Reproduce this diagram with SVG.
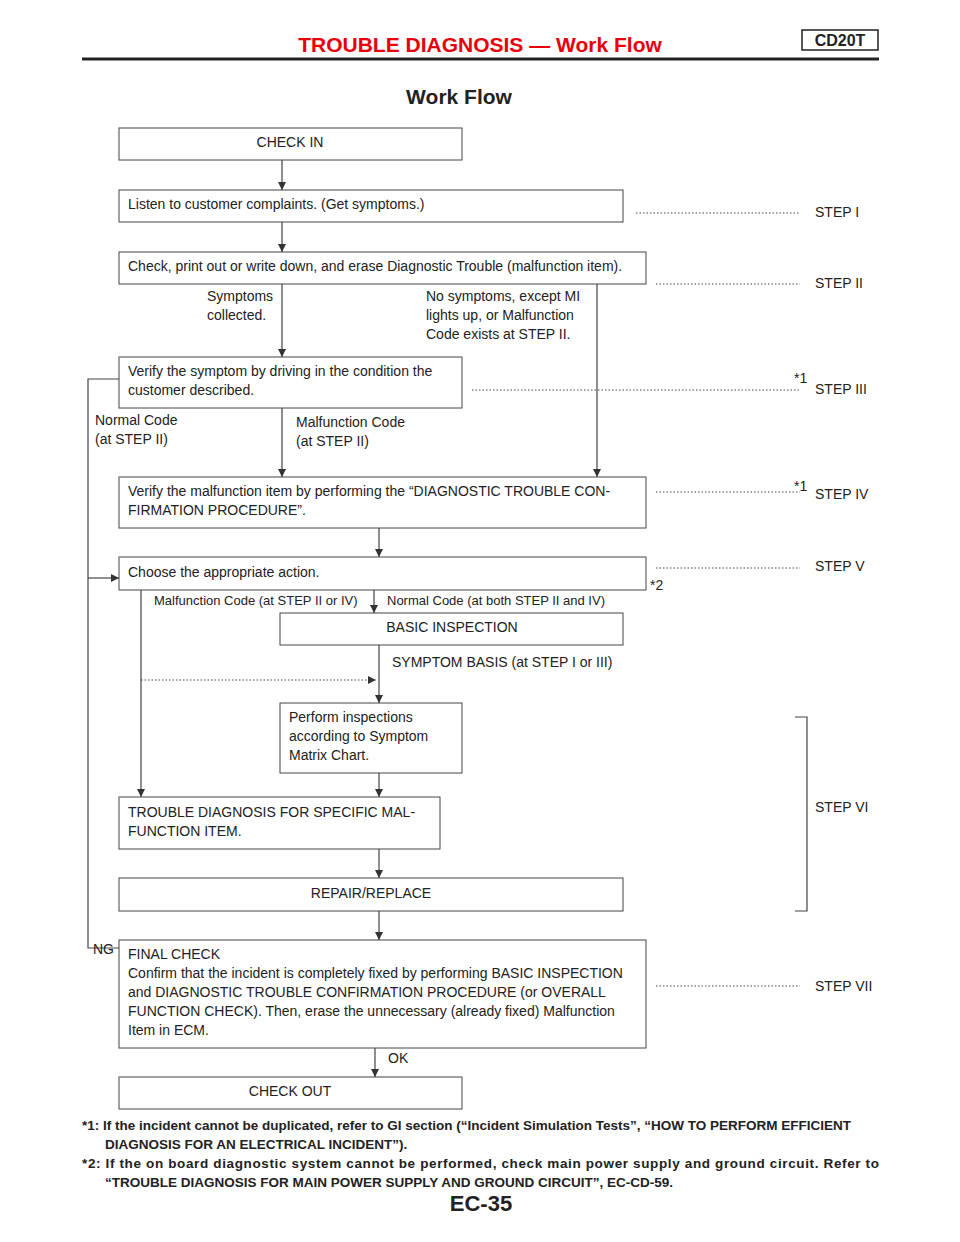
<svg xmlns="http://www.w3.org/2000/svg" width="960" height="1242" viewBox="0 0 960 1242">
<defs><marker id="a" markerWidth="8" markerHeight="8" refX="8" refY="4" orient="auto" markerUnits="userSpaceOnUse"><path d="M0,0 L8,4 L0,8 z" fill="#333"/></marker></defs>
<style>
text{font-family:"Liberation Sans",Arial,sans-serif;font-size:14px;fill:#222}
.b{fill:#fff;stroke:#444;stroke-width:1}
.l{stroke:#444;stroke-width:1.2;fill:none}
.d{stroke:#444;stroke-width:1;stroke-dasharray:1.5 2;fill:none}
.f{font-weight:bold;font-size:13.5px}
</style>
<rect width="960" height="1242" fill="#fff"/>
<text x="480" y="52" text-anchor="middle" style="fill:#e8000b;font-size:21px;font-weight:bold">TROUBLE DIAGNOSIS — Work Flow</text>
<rect x="802" y="30" width="76" height="20" fill="#fff" stroke="#222" stroke-width="1.5"/>
<text x="840" y="46" text-anchor="middle" style="font-size:16px;font-weight:bold">CD20T</text>
<line x1="82" y1="59" x2="879" y2="59" stroke="#222" stroke-width="3"/>
<text x="459" y="104" text-anchor="middle" style="font-size:21px;font-weight:bold">Work Flow</text>
<g id="connectors">
<path class="l" marker-end="url(#a)" d="M282 160V190"/>
<path class="l" marker-end="url(#a)" d="M282 222V252"/>
<path class="l" marker-end="url(#a)" d="M282 284V357"/>
<path class="l" marker-end="url(#a)" d="M597 284V477"/>
<path class="l" marker-end="url(#a)" d="M282 408V477"/>
<path class="l" marker-end="url(#a)" d="M379 528V557"/>
<path class="l" d="M119 379H88V948H119"/>
<path class="l" marker-end="url(#a)" d="M88 578H119"/>
<path class="l" marker-end="url(#a)" d="M374 590V613"/>
<path class="l" marker-end="url(#a)" d="M141 590V797"/>
<path class="l" marker-end="url(#a)" d="M379 645V703"/>
<path class="d" marker-end="url(#a)" d="M141 680H376"/>
<path class="l" marker-end="url(#a)" d="M379 773V797"/>
<path class="l" marker-end="url(#a)" d="M379 849V878"/>
<path class="l" marker-end="url(#a)" d="M379 911V940"/>
<path class="l" marker-end="url(#a)" d="M375 1048V1077"/>
<path class="d" d="M636 213H800M656 284H800M472 390H800M656 492H800M656 568H800M656 986H800"/>
<path class="l" d="M795 717H807V911H795"/>
</g>
<g id="checkin"><rect class="b" x="119" y="128" width="343" height="32"/><text x="290" y="147" text-anchor="middle">CHECK IN</text></g>
<g id="listen"><rect class="b" x="119" y="190" width="504" height="32"/><text x="128" y="209">Listen to customer complaints. (Get symptoms.)</text></g>
<g id="check"><rect class="b" x="119" y="252" width="527" height="32"/><text x="128" y="271">Check, print out or write down, and erase Diagnostic Trouble (malfunction item).</text></g>
<g id="verify"><rect class="b" x="119" y="357" width="343" height="51"/><text x="128" y="376">Verify the symptom by driving in the condition the</text><text x="128" y="395">customer described.</text></g>
<g id="verifym"><rect class="b" x="119" y="477" width="527" height="51"/><text x="128" y="496">Verify the malfunction item by performing the “DIAGNOSTIC TROUBLE CON-</text><text x="128" y="515">FIRMATION PROCEDURE”.</text></g>
<g id="choose"><rect class="b" x="119" y="557" width="527" height="33"/><text x="128" y="577">Choose the appropriate action.</text></g>
<g id="basic"><rect class="b" x="280" y="613" width="343" height="32"/><text x="452" y="632" text-anchor="middle">BASIC INSPECTION</text></g>
<g id="perform"><rect class="b" x="280" y="703" width="182" height="70"/><text x="289" y="722">Perform inspections</text><text x="289" y="741">according to Symptom</text><text x="289" y="760">Matrix Chart.</text></g>
<g id="trouble"><rect class="b" x="119" y="797" width="321" height="52"/><text x="128" y="817">TROUBLE DIAGNOSIS FOR SPECIFIC MAL-</text><text x="128" y="836">FUNCTION ITEM.</text></g>
<g id="repair"><rect class="b" x="119" y="878" width="504" height="33"/><text x="371" y="898" text-anchor="middle">REPAIR/REPLACE</text></g>
<g id="final"><rect class="b" x="119" y="940" width="527" height="108"/><text x="128" y="959">FINAL CHECK</text><text x="128" y="978">Confirm that the incident is completely fixed by performing BASIC INSPECTION</text><text x="128" y="997">and DIAGNOSTIC TROUBLE CONFIRMATION PROCEDURE (or OVERALL</text><text x="128" y="1016">FUNCTION CHECK). Then, erase the unnecessary (already fixed) Malfunction</text><text x="128" y="1035">Item in ECM.</text></g>
<g id="checkout"><rect class="b" x="119" y="1077" width="343" height="32"/><text x="290" y="1096" text-anchor="middle">CHECK OUT</text></g>
<g id="labels">
<text x="207" y="301">Symptoms</text><text x="207" y="320">collected.</text>
<text x="426" y="301">No symptoms, except MI</text><text x="426" y="320">lights up, or Malfunction</text><text x="426" y="339">Code exists at STEP II.</text>
<text x="95" y="425">Normal Code</text><text x="95" y="444">(at STEP II)</text>
<text x="296" y="427">Malfunction Code</text><text x="296" y="446">(at STEP II)</text>
<text x="154" y="605" style="font-size:13px">Malfunction Code (at STEP II or IV)</text>
<text x="387" y="605" style="font-size:13px">Normal Code (at both STEP II and IV)</text>
<text x="392" y="667">SYMPTOM BASIS (at STEP I or III)</text>
<text x="93" y="954">NG</text><text x="388" y="1063">OK</text>
<text x="650" y="590">*2</text><text x="794" y="383">*1</text><text x="794" y="491">*1</text>
<text x="815" y="217">STEP I</text><text x="815" y="288">STEP II</text><text x="815" y="394">STEP III</text><text x="815" y="499">STEP IV</text><text x="815" y="571">STEP V</text><text x="815" y="812">STEP VI</text><text x="815" y="991">STEP VII</text>
</g>
<text class="f" x="82" y="1130">*1: If the incident cannot be duplicated, refer to GI section (“Incident Simulation Tests”, “HOW TO PERFORM EFFICIENT</text>
<text class="f" x="105" y="1149">DIAGNOSIS FOR AN ELECTRICAL INCIDENT”).</text>
<text class="f" x="82" y="1168" textLength="797">*2: If the on board diagnostic system cannot be performed, check main power supply and ground circuit. Refer to</text>
<text class="f" x="105" y="1187">“TROUBLE DIAGNOSIS FOR MAIN POWER SUPPLY AND GROUND CIRCUIT”, EC-CD-59.</text>
<text x="481" y="1211" text-anchor="middle" style="font-size:22px;font-weight:bold">EC-35</text>
</svg>
